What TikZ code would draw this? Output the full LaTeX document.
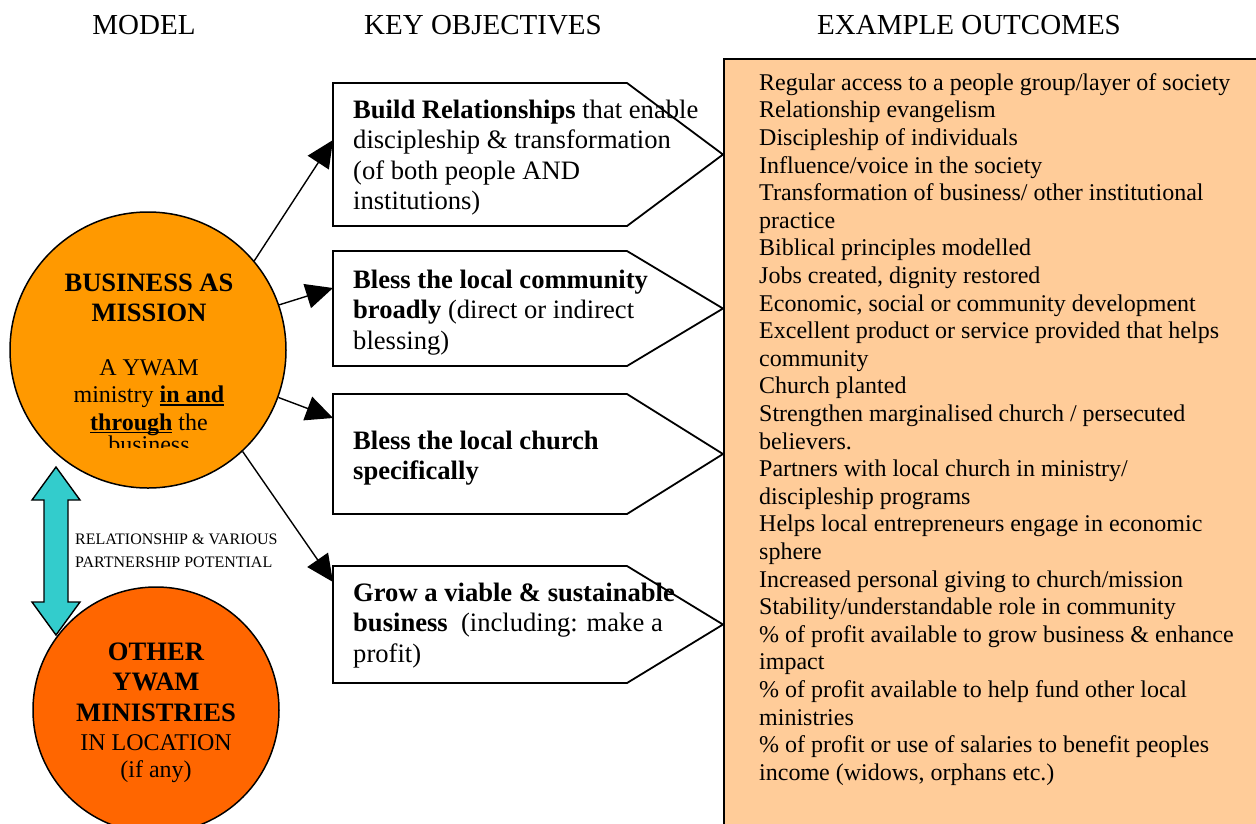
\documentclass[tikz,border=0pt]{standalone}
\usepackage{fontspec}
\setmainfont{Liberation Serif}
\usetikzlibrary{arrows.meta,calc}

\definecolor{bamorange}{HTML}{FF9900}
\definecolor{otherorange}{HTML}{FF6600}
\definecolor{peach}{HTML}{FFCC99}
\definecolor{linkcyan}{HTML}{33CCCC}

% underline drawn close to the baseline, through the descenders
\newsavebox\wordbox
\newcommand\wordline[1]{\sbox\wordbox{#1}\rlap{\rule[-3pt]{\wd\wordbox}{1.4pt}}\usebox\wordbox}

\tikzset{
  head/.style={font=\fontsize{29}{33}\selectfont, anchor=base, inner sep=0pt},
  objbox/.style={draw=none, minimum width=390pt, anchor=north west, inner sep=0pt, outer sep=0pt},
  objline/.style={draw=black, fill=white, line width=1.8pt, line join=miter},
  objtext/.style={font=\fontsize{26.6}{30.5}\selectfont, align=left, anchor=north west, inner sep=0pt},
  outtext/.style={font=\fontsize{24}{27.6}\selectfont, align=left, anchor=north west, inner sep=0pt},
  conn/.style={-{Triangle[length=27pt,width=25pt]}, line width=1.4pt},
  bubble/.style={circle, draw=black, line width=1.5pt, inner sep=0pt},
  bigbold/.style={font=\fontsize{26.6}{30.5}\selectfont\bfseries, align=center, anchor=north, inner sep=0pt},
  plain/.style={font=\fontsize{24}{27.5}\selectfont, align=center, anchor=north, inner sep=0pt},
  smalllabel/.style={font=\fontsize{16}{23}\selectfont, align=left, anchor=north west, inner sep=0pt}
}

% pentagon outline around an objective node
\newcommand\objshape[1]{%
  \path[objline] (#1.north west) -- ($(#1.north west)+(294,0)$) -- (#1.east)
    -- ($(#1.south west)+(294,0)$) -- (#1.south west) -- cycle;}

\begin{document}
\begin{tikzpicture}[x=1pt,y=-1pt]
\useasboundingbox (0,0) rectangle (1256,823);

% column headings
\node[head] (hmodel) at (144,34) {MODEL};
\node[head] (hobj) at (483,34) {KEY OBJECTIVES};
\node[head] (hout) at (969,34) {EXAMPLE OUTCOMES};

% outcomes panel
\node[draw=black, fill=peach, line width=1.8pt, anchor=north west, minimum width=560pt,
      minimum height=800pt, inner sep=0pt] (outbox) at (723,58) {};
\node[outtext] (outtxt) at (759,70.7) {\strut Regular access to a people group/layer of society\\
Relationship evangelism\\
Discipleship of individuals\\
Influence/voice in the society\\
Transformation of business/ other institutional\\
practice\\
Biblical principles modelled\\
Jobs created, dignity restored\\
Economic, social or community development\\
Excellent product or service provided that helps\\
community\\
Church planted\\
Strengthen marginalised church / persecuted\\
believers.\\
Partners with local church in ministry/\\
discipleship programs\\
Helps local entrepreneurs engage in economic\\
sphere\\
Increased personal giving to church/mission\\
Stability/understandable role in community\\
\% of profit available to grow business \& enhance\\
impact\\
\% of profit available to help fund other local\\
ministries\\
\% of profit or use of salaries to benefit peoples\\
income (widows, orphans etc.)};

% objectives
\node[objbox, minimum height=143pt] (k1) at (333,83) {};
\node[objbox, minimum height=115pt] (k2) at (333,251) {};
\node[objbox, minimum height=120pt] (k3) at (333,394) {};
\node[objbox, minimum height=117pt] (k4) at (333,566) {};
\objshape{k1}
\objshape{k2}
\objshape{k3}
\objshape{k4}

\node[objtext] (k1t) at (353,96.6) {\strut\textbf{Build Relationships} that enable\\
discipleship \& transformation\\(of both people AND\\institutions)};
\node[objtext] (k2t) at (353,266.6) {\strut\textbf{Bless the local community}\\
\textbf{broadly} (direct or indirect\\blessing)};
\node[objtext] (k3t) at (353,427.6) {\strut\textbf{Bless the local church}\\
\textbf{specifically}};
\node[objtext] (k4t) at (353,579.6) {\strut\textbf{Grow a viable \& sustainable}\\
\textbf{business}\ \ (including: make a\\profit)};

% partnership link between the two models
\coordinate (link) at (56,551);
\path[draw=black, fill=linkcyan, line width=1.4pt, line join=miter]
  ($(link)+(0,-84)$) -- ($(link)+(24,-51)$) -- ($(link)+(12,-51)$)
  -- ($(link)+(12,51)$) -- ($(link)+(24,51)$) -- ($(link)+(0,84)$)
  -- ($(link)+(-24,51)$) -- ($(link)+(-12,51)$) -- ($(link)+(-12,-51)$)
  -- ($(link)+(-24,-51)$) -- cycle;
\node[smalllabel] (linklabel) at (75,528.2) {\strut RELATIONSHIP \& VARIOUS\\PARTNERSHIP POTENTIAL};

% business as mission
\node[bubble, fill=bamorange, minimum size=276pt] (bam) at (148,350) {};
\node[bigbold, font=\fontsize{26.5}{30}\selectfont\bfseries] (bamtitle) at (149,269.8)
  {\strut BUSINESS AS\\MISSION};
\begin{scope}
  % the text frame inside the circle cuts off the last line
  \clip (0,0) rectangle (300,447);
  \node[plain] (bamsub) at (149,355.8) {\strut A YWAM\\
    ministry \wordline{\textbf{in and}}\\\wordline{\textbf{through}} the\\[-5pt]business};
\end{scope}

% other ministries
\node[bubble, fill=otherorange, minimum size=246pt] (oym) at (156,710) {};
\node[bigbold] (oymtitle) at (156,638.6) {\strut OTHER\\YWAM\\MINISTRIES};
\node[plain, font=\fontsize{24}{27}\selectfont] (oymsub) at (156,731.1) {\strut IN LOCATION\\(if any)};

% connectors to the objectives
\draw[conn] (bam.40) -- ($(k1.north west)+(0,57)$);
\draw[conn] (bam.19) -- ($(k2.north west)+(0,37)$);
\draw[conn] (bam.-20) -- ($(k3.north west)+(0,24)$);
\draw[conn] (bam.-47) -- ($(k4.north west)+(0,16)$);
\end{tikzpicture}
\end{document}
